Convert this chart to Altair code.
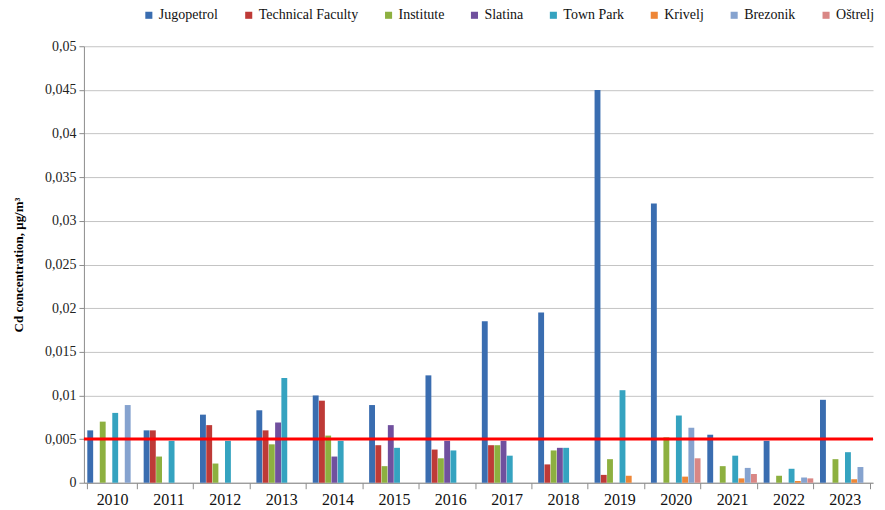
import altair as alt
import pandas as pd

years = ["2010", "2011", "2012", "2013", "2014", "2015", "2016",
         "2017", "2018", "2019", "2020", "2021", "2022", "2023"]
stations = ["Jugopetrol", "Technical Faculty", "Institute", "Slatina",
            "Town Park", "Krivelj", "Brezonik", "Oštrelj"]
colors = ["#3A6DB0", "#BE3A37", "#8DB040", "#70509E",
          "#35A3C0", "#EE8636", "#86A3CF", "#D98785"]

jugopetrol = [0.006, 0.006, 0.0078, 0.0083, 0.0100, 0.0089, 0.0123,
              0.0185, 0.0195, 0.045, 0.032, 0.0055, 0.0048, 0.0095]
technical = [None, 0.006, 0.0066, 0.0060, 0.0094, 0.0043, 0.0038,
             0.0043, 0.0021, 0.0009, None, None, None, None]
institute = [0.0070, 0.0030, 0.0022, 0.0044, 0.0054, 0.0019, 0.0028,
             0.0043, 0.0037, 0.0027, 0.0052, 0.0019, 0.0008, 0.0027]
slatina = [None, None, None, 0.0069, 0.0030, 0.0066, 0.0048,
           0.0048, 0.0040, None, None, None, None, None]
town_park = [0.0080, 0.0048, 0.0048, 0.0120, 0.0048, 0.0040, 0.0037,
             0.0031, 0.0040, 0.0106, 0.0077, 0.0031, 0.0016, 0.0035]
krivelj = [None, None, None, None, None, None, None,
           None, None, 0.0008, 0.0007, 0.0005, 0.0002, 0.0004]
brezonik = [0.0089, None, None, None, None, None, None,
            None, None, None, 0.0063, 0.0017, 0.0006, 0.0018]
ostrelj = [None, None, None, None, None, None, None,
           None, None, None, 0.0028, 0.0010, 0.0005, None]

series = [jugopetrol, technical, institute, slatina, town_park, krivelj, brezonik, ostrelj]
y_ticks = [0, 0.005, 0.01, 0.015, 0.02, 0.025, 0.03, 0.035, 0.04, 0.045, 0.05]
limit_value = [0.005]

rows = []
for st, vals in zip(stations, series):
    for yr, v in zip(years, vals):
        if v is not None:
            rows.append({"year": yr, "station": st, "value": v})
df = pd.DataFrame(rows)

FONT = "Liberation Serif"
Y_TITLE = "Cd concentration, μg/m³"

y_axis = alt.Axis(values=y_ticks,
                  labelExpr="replace(toString(datum.value), '.', ',')",
                  title=Y_TITLE, titleFont=FONT,
                  titleFontSize=13, titleFontWeight="bold", titleColor="#000000",
                  titlePadding=19, labelFont=FONT, labelFontSize=14,
                  labelColor="#222222", tickSize=5, labelPadding=3,
                  domainColor="#8C8C8C", tickColor="#8C8C8C",
                  gridColor="#C4C4C4", gridWidth=1)
y_scale = alt.Scale(domain=[0, 0.05], nice=False, zero=True)

bars = alt.Chart(df).mark_bar().encode(
    x=alt.X("year:N", sort=years,
            scale=alt.Scale(domain=years, paddingInner=0.12, paddingOuter=0.06),
            axis=alt.Axis(title=None, labelAngle=0, labelFont=FONT, labelFontSize=16,
                          labelColor="#111111", tickBand="extent", tickSize=6,
                          labelPadding=3, domainColor="#8C8C8C", tickColor="#8C8C8C",
                          grid=False)),
    xOffset=alt.XOffset("station:N", sort=stations,
                        scale=alt.Scale(domain=stations, paddingInner=0.06, paddingOuter=0.0)),
    y=alt.Y("value:Q", scale=y_scale, axis=y_axis),
    color=alt.Color("station:N", sort=stations,
                    scale=alt.Scale(domain=stations, range=colors),
                    legend=alt.Legend(title=None, orient="none", legendX=58, legendY=-38,
                                      direction="horizontal", columns=8,
                                      symbolType="square", symbolSize=50,
                                      symbolStrokeWidth=0, labelFont=FONT,
                                      labelFontSize=14, labelColor="#111111",
                                      labelOffset=3, columnPadding=23)),
)

rule = alt.Chart(pd.DataFrame({"v": limit_value})).mark_rule(
    color="#FF0000", strokeWidth=3
).encode(y=alt.Y("v:Q", scale=y_scale, axis=y_axis))

chart = alt.layer(bars, rule).properties(
    width=790, height=437,
    padding={"left": 4, "top": 0, "right": 2, "bottom": 0},
).configure(
    font=FONT,
    view=alt.ViewConfig(stroke=None),
    axis=alt.AxisConfig(labelFont=FONT, titleFont=FONT),
    legend=alt.LegendConfig(labelFont=FONT, titleFont=FONT),
)

chart.save("out.html", embed_options={"renderer": "svg", "actions": False})
